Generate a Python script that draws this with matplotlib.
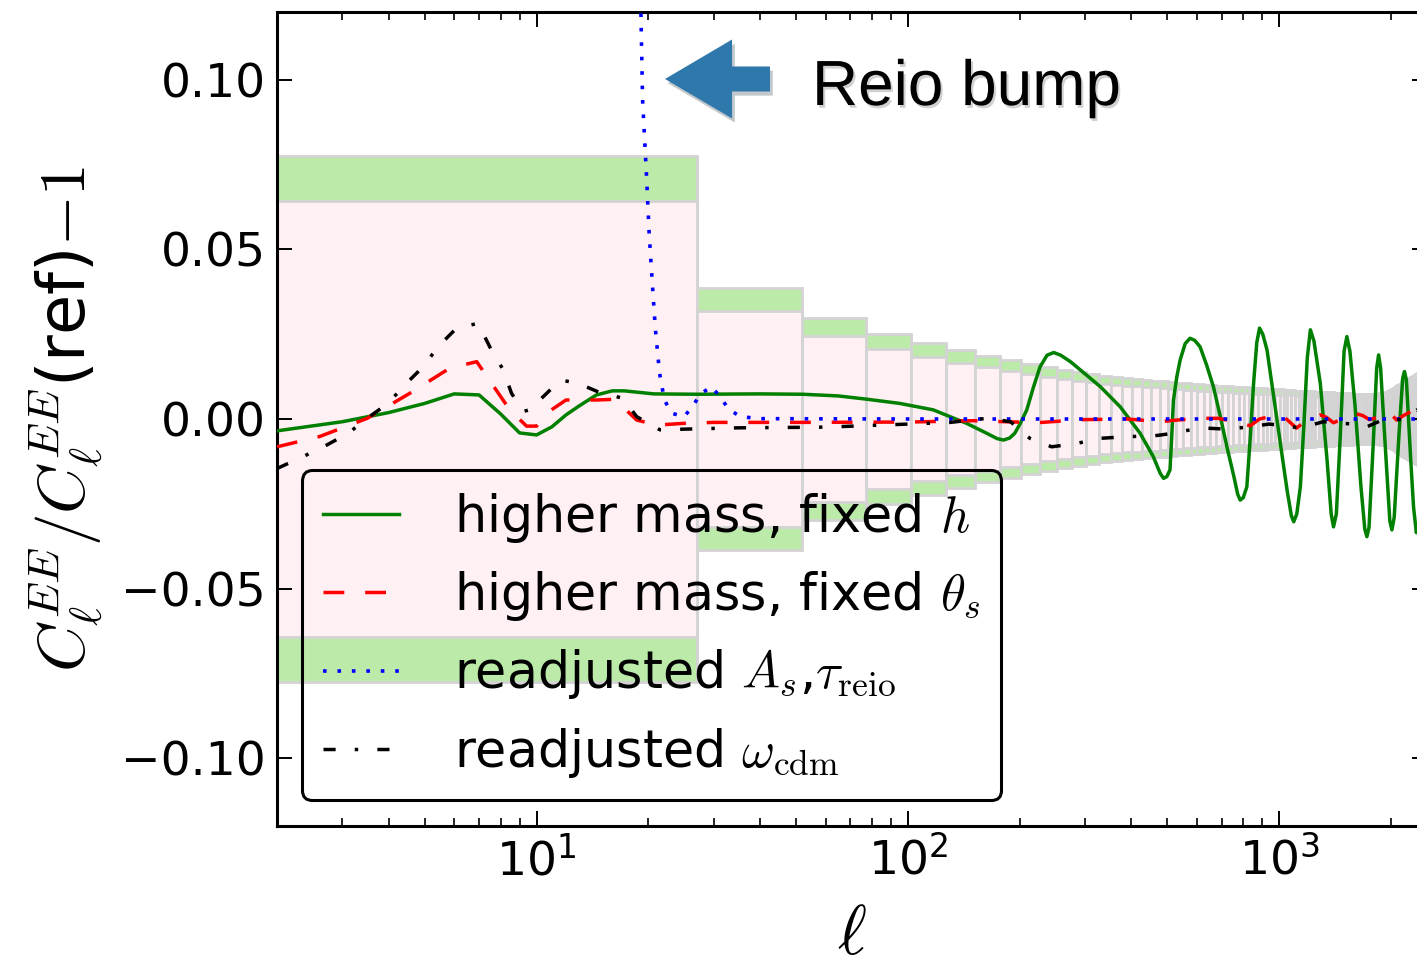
import numpy as np
import matplotlib
matplotlib.use("Agg")
import matplotlib.pyplot as plt
import matplotlib.patheffects as pe
from matplotlib.patches import FancyArrow

plt.rcParams["mathtext.fontset"] = "cm"
plt.rcParams["font.family"] = ["DejaVu Sans"]

# binned error bands (bins of width 25 starting at l=2)
bin_width = 25
bin_lo = np.arange(2, 2502, bin_width)
sigma_outer = [
    0.0775, 0.0386, 0.0298, 0.0252, 0.0223, 0.0203, 0.0186, 0.0173, 0.0162, 0.0153,
    0.0145, 0.0138, 0.0132, 0.0127, 0.0123, 0.0120, 0.0117, 0.0115, 0.0113, 0.0111,
    0.0109, 0.0107, 0.0105, 0.0104, 0.0102, 0.0101, 0.0100, 0.0098, 0.0097, 0.0096,
    0.0095, 0.0094, 0.0093, 0.0092, 0.0091, 0.0091, 0.0090, 0.0089, 0.0088, 0.0088,
    0.0087, 0.0086, 0.0086, 0.0085, 0.0084, 0.0084, 0.0083, 0.0083, 0.0082, 0.0082,
    0.0081, 0.0081, 0.0080, 0.0080, 0.0079, 0.0079, 0.0078, 0.0078, 0.0077, 0.0077,
    0.0076, 0.0076, 0.0076, 0.0075, 0.0075, 0.0075, 0.0074, 0.0074, 0.0074, 0.0074,
    0.0074, 0.0074, 0.0075, 0.0075, 0.0076, 0.0077, 0.0078, 0.0080, 0.0082, 0.0085,
    0.0088, 0.0092, 0.0096, 0.0100, 0.0104, 0.0108, 0.0112, 0.0116, 0.0119, 0.0122,
    0.0125, 0.0128, 0.0131, 0.0134, 0.0137, 0.0140, 0.0143, 0.0146, 0.0149, 0.0152,
]
sigma_inner = [
    0.0643, 0.0317, 0.0245, 0.0206, 0.0182, 0.0166, 0.0152, 0.0142, 0.0133, 0.0125,
    0.0119, 0.0113, 0.0108, 0.0104, 0.0101, 0.0098, 0.0096, 0.0094, 0.0093, 0.0091,
    0.0089, 0.0088, 0.0086, 0.0085, 0.0084, 0.0083, 0.0082, 0.0080, 0.0080, 0.0079,
    0.0078, 0.0077, 0.0076, 0.0075, 0.0075, 0.0075, 0.0074, 0.0073, 0.0072, 0.0072,
    0.0071, 0.0070, 0.0070, 0.0070, 0.0069, 0.0069, 0.0068, 0.0068, 0.0067, 0.0067,
    0.0066, 0.0066, 0.0066, 0.0066, 0.0065, 0.0065, 0.0064, 0.0064, 0.0063, 0.0063,
    0.0062, 0.0062, 0.0062, 0.0061, 0.0061, 0.0061, 0.0061, 0.0061, 0.0061, 0.0061,
    0.0061, 0.0061, 0.0061, 0.0061, 0.0062, 0.0063, 0.0064, 0.0066, 0.0067, 0.0070,
    0.0072, 0.0075, 0.0079, 0.0082, 0.0085, 0.0089, 0.0092, 0.0095, 0.0098, 0.0100,
    0.0102, 0.0105, 0.0107, 0.0110, 0.0112, 0.0115, 0.0117, 0.0120, 0.0122, 0.0125,
]

# higher mass, fixed h
l_mass_h = [2, 3, 4, 5, 6, 7, 8, 9, 10, 11, 12, 13, 14.5, 16, 17.2, 20.7, 27, 40, 52, 65,
            78, 95, 117, 144, 163, 174, 181, 188, 194, 201, 209, 218, 227, 237, 247, 258,
            274, 300, 330, 373, 422, 458, 478, 488, 498, 508, 513, 519, 530, 541, 558,
            575, 592, 612, 637, 665, 693, 723, 755, 773, 785, 800, 818, 835, 853, 870,
            885, 903, 927, 965, 1007, 1050, 1078, 1094, 1115, 1140, 1165, 1190, 1213,
            1240, 1290, 1345, 1380, 1400, 1425, 1460, 1495, 1521, 1550, 1600, 1660, 1700,
            1722, 1745, 1790, 1830, 1852, 1875, 1930, 1985, 2011, 2040, 2100, 2150, 2174,
            2200, 2260, 2300, 2340, 2400, 2480]
r_mass_h = [-0.0035, -0.0008, 0.0019, 0.0046, 0.0074, 0.0071, 0.0015, -0.0041, -0.0047,
            -0.0023, 0.0012, 0.0038, 0.0071, 0.0083, 0.0083, 0.0074, 0.0073, 0.0074, 0.0073,
            0.0068, 0.0058, 0.0046, 0.0027, -0.0013, -0.0042, -0.0058, -0.0062, -0.0056,
            -0.0042, -0.0012, 0.0027, 0.0095, 0.0154, 0.0188, 0.0196, 0.0188, 0.0169, 0.0133,
            0.0095, 0.0036, -0.0042, -0.0111, -0.0160, -0.0175, -0.0170, -0.0150, -0.0060,
            0.0056, 0.0125, 0.0174, 0.0222, 0.0238, 0.0232, 0.0213, 0.0160, 0.0095, 0.0010,
            -0.0082, -0.0170, -0.0222, -0.0239, -0.0232, -0.0200, -0.0060, 0.0105, 0.0225,
            0.0268, 0.0250, 0.0204, 0.0070, -0.0072, -0.0210, -0.0285, -0.0303, -0.0280,
            -0.0200, -0.0020, 0.0180, 0.0263, 0.0230, 0.0105, -0.0120, -0.0280, -0.0318,
            -0.0280, -0.0050, 0.0200, 0.0243, 0.0200, 0.0040, -0.0200, -0.0325, -0.0347,
            -0.0320, -0.0080, 0.0150, 0.0189, 0.0150, -0.0080, -0.0300, -0.0327, -0.0290,
            -0.0050, 0.0120, 0.0140, 0.0115, -0.0120, -0.0260, -0.0335, -0.0300, -0.0150]

# higher mass, fixed theta_s
l_mass_th = [2, 2.6, 3.5, 4.56, 5.84, 6.9, 7.3, 8.47, 9.4, 10, 10.8, 12, 14.5, 16.1, 16.7,
             18.6, 21.1, 24.8, 30, 50, 100, 150, 210, 230, 290, 390, 478, 520, 612, 685,
             760, 835, 885, 950, 1023, 1070, 1113, 1180, 1290, 1340, 1400, 1480, 1595,
             1680, 1750, 1840, 1940, 2010, 2070, 2160, 2260, 2330, 2450]
r_mass_th = [-0.0082, -0.0052, 0.0002, 0.0076, 0.0150, 0.0169, 0.0130, 0.0027, -0.0021,
             -0.0021, 0.0022, 0.0056, 0.0056, 0.0058, 0.0046, -0.0003, -0.0018, -0.0013,
             -0.0010, -0.0010, -0.0009, -0.0005, -0.0010, -0.0010, -0.0002, 0.0000, -0.0008,
             -0.0004, 0.0002, 0.0002, -0.0008, -0.0020, 0.0000, 0.0008, 0.0009, -0.0010,
             -0.0027, -0.0005, 0.0012, 0.0005, -0.0011, 0.0000, 0.0017, 0.0010, -0.0002,
             0.0005, 0.0022, 0.0012, -0.0003, 0.0010, 0.0022, 0.0010, 0.0000]

# readjusted A_s, tau_reio
l_as_tau = [2, 5, 10, 15, 18, 19.1, 19.3, 19.76, 20.1, 20.5, 20.9, 21.44, 22.1, 23.1, 25.0,
            26.3, 27.8, 29.6, 31.3, 32.9, 35.4, 40, 100, 1000, 2500]
r_as_tau = [0.60, 0.45, 0.30, 0.20, 0.16, 0.120, 0.094, 0.0725, 0.0548, 0.040, 0.0263,
            0.0135, 0.0056, 0.0017, 0.0007, 0.0038, 0.0076, 0.0095, 0.0064, 0.0029, 0.0007,
            0.0001, 0.0, 0.0, 0.0]

# readjusted omega_cdm
l_wcdm = [2, 2.35, 2.72, 3.11, 3.55, 3.98, 4.46, 4.95, 5.43, 6.09, 6.96, 7.48, 8.13, 8.56,
          9.2, 9.8, 10.2, 11.6, 12.95, 14.8, 17.1, 18.6, 21.5, 24.8, 35, 60, 100, 130, 163,
          189, 213, 244, 285, 330, 388, 458, 519, 612, 723, 835, 938, 1040, 1140, 1315,
          1484, 1600, 1722, 1940, 2160, 2350, 2450]
r_wcdm = [-0.0146, -0.0111, -0.0077, -0.0042, 0.0007, 0.0046, 0.0105, 0.0154, 0.0213,
          0.0268, 0.0282, 0.0213, 0.0145, 0.0076, 0.0022, 0.0030, 0.0056, 0.0115, 0.0105,
          0.0078, 0.0061, 0.0007, -0.0032, -0.0030, -0.0026, -0.0024, -0.0015, -0.0010,
          0.0002, -0.0008, -0.0057, -0.0082, -0.0072, -0.0057, -0.0052, -0.0050, -0.0042,
          -0.0026, -0.0030, -0.0023, -0.0015, -0.0020, -0.0027, -0.0008, -0.0013, -0.0015,
          -0.0023, 0.0002, -0.0003, 0.0027, 0.0010]

fig = plt.figure(figsize=(14.17, 9.66), dpi=100)
ax = fig.add_axes([277 / 1417, 1 - 826 / 966, 1150 / 1417, 814 / 966])

# error bands: outer (green) box with inner (pink) box on top
ax.bar(bin_lo, 2 * np.array(sigma_outer), bottom=-np.array(sigma_outer), width=bin_width,
       align="edge", color="#bbeaa9", edgecolor="#d3d3d3", linewidth=2, zorder=1)
ax.bar(bin_lo, 2 * np.array(sigma_inner), bottom=-np.array(sigma_inner), width=bin_width,
       align="edge", color="#fff0f4", edgecolor="#d3d3d3", linewidth=2, zorder=1.1)

ax.plot(l_mass_h, r_mass_h, color="green", lw=2.5, label=r"higher mass, fixed $h$", zorder=3)
ax.plot(l_mass_th, r_mass_th, color="red", lw=2.5, dashes=(6, 6),
        label=r"higher mass, fixed $\theta_s$", zorder=3)
ax.plot(l_as_tau, r_as_tau, color="blue", lw=2.6, dashes=(1, 3),
        label=r"readjusted $A_s$,$\tau_\mathrm{reio}$", zorder=3)
ax.plot(l_wcdm, r_wcdm, color="black", lw=2.5, dashes=(3.5, 5.5, 1, 5.5),
        label=r"readjusted $\omega_\mathrm{cdm}$", zorder=3)

ax.set_xscale("log")
ax.set_xlim(2, 2500)
ax.set_ylim(-0.12, 0.12)
ax.set_yticks([-0.10, -0.05, 0.0, 0.05, 0.10])
ax.set_yticklabels(["\u22120.10", "\u22120.05", "0.00", "0.05", "0.10"])

ax.tick_params(which="both", direction="in", top=True, right=True, labelsize=34)
ax.tick_params(which="major", length=11, width=1.4, pad=8)
ax.tick_params(which="minor", length=6, width=1.2)
for sp in ax.spines.values():
    sp.set_linewidth(2.2)

ax.set_xlabel(r"$\ell$", fontsize=50, labelpad=12)
ax.set_ylabel(r"$C_\ell^{EE}/C_\ell^{EE}$(ref)$-1$", fontsize=47, labelpad=12)

leg = ax.legend(loc="lower left", bbox_to_anchor=(0.022, 0.032), borderaxespad=0,
                fontsize=36.5, handlelength=1.5, handletextpad=1.1, labelspacing=0.48,
                borderpad=0.4, fancybox=True, frameon=True, framealpha=1)
leg.get_frame().set_facecolor("none")
leg.get_frame().set_edgecolor("black")
leg.get_frame().set_linewidth(2.2)
leg.set_zorder(5)

# "Reio bump" call-out
arrow = FancyArrow(0.4287, 0.9177, -0.0913, 0.0, width=0.0307, head_width=0.097,
                   head_length=0.0583, length_includes_head=True, transform=ax.transAxes,
                   color="#2f78ab", lw=0, zorder=6, clip_on=False)
arrow.set_path_effects([pe.SimplePatchShadow(offset=(2, -3), alpha=0.25), pe.Normal()])
ax.add_patch(arrow)
ax.text(0.4652, 0.8857, "Reio bump", transform=ax.transAxes, fontsize=46,
        family="Liberation Sans", va="baseline", ha="left", zorder=6,
        path_effects=[pe.SimplePatchShadow(offset=(1.5, -2), alpha=0.18), pe.Normal()])

fig.savefig("out.png", dpi=100)
